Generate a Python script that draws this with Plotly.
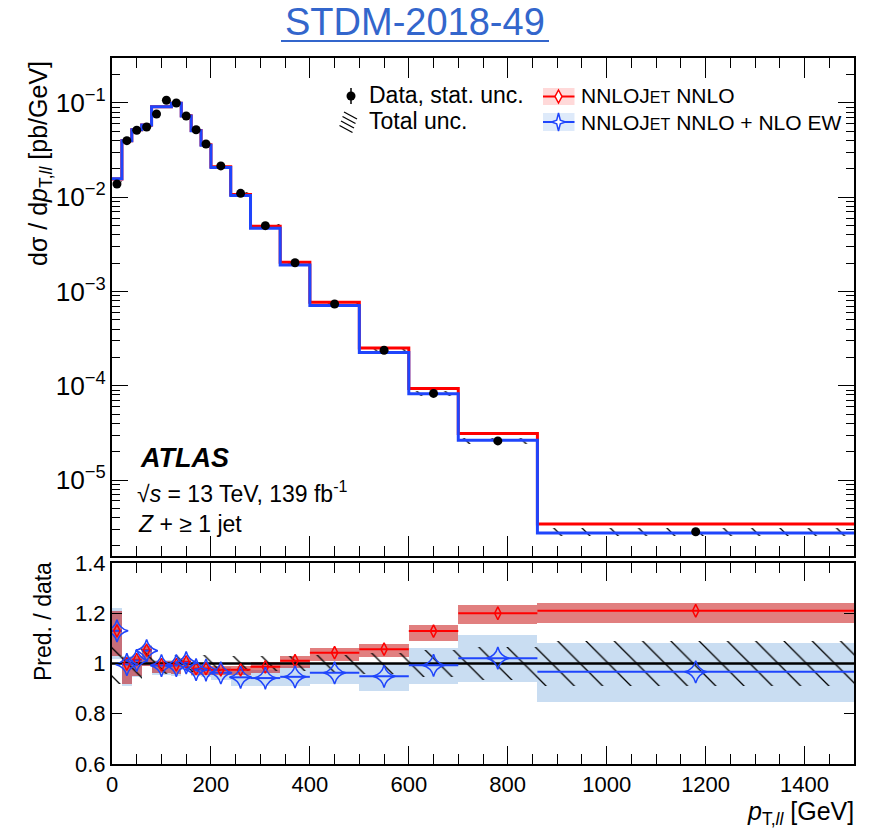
import numpy as np
import plotly.graph_objects as go

# ---------------------------------------------------------------------------
# Z + >=1 jet, dilepton transverse momentum
# ---------------------------------------------------------------------------
data_edges = [0, 20, 40, 60, 80, 100, 120, 140, 160, 180, 200, 240, 280, 340,
              400, 500, 600, 700, 860, 1500]
pred_edges = [0, 20, 40, 60, 80, 120, 140, 160, 180, 200, 240, 280, 340,
              400, 500, 600, 700, 860, 1500]

# measured cross-section [pb/GeV]
data_xsec = [0.0138, 0.0398, 0.0513, 0.0556, 0.0764, 0.1069, 0.100, 0.0727,
             0.0520, 0.0367, 0.0215, 0.0110, 4.99e-3, 2.02e-3, 7.36e-4,
             2.38e-4, 8.3e-5, 2.6e-5, 2.83e-6]
# relative statistical and total uncertainties
data_stat_rel = [0.004, 0.003, 0.003, 0.003, 0.003, 0.003, 0.003, 0.003, 0.003,
                 0.003, 0.004, 0.005, 0.006, 0.008, 0.010, 0.015, 0.02, 0.03, 0.06]
data_tot_rel = [0.08, 0.075, 0.06, 0.05, 0.04, 0.04, 0.035, 0.035, 0.035, 0.035,
                0.03, 0.03, 0.03, 0.03, 0.035, 0.04, 0.053, 0.066, 0.09]

# predictions [pb/GeV]
nnlo_xsec = [0.0156, 0.0397, 0.0521, 0.0585, 0.0912, 0.0995, 0.0731, 0.0510,
             0.0360, 0.0210, 0.0107, 4.93e-3, 2.04e-3, 7.68e-4, 2.52e-4,
             9.37e-5, 3.12e-5, 3.42e-6]
nnlo_ew_xsec = [0.0157, 0.0397, 0.0519, 0.0584, 0.0910, 0.0992, 0.0729, 0.0508,
                0.0357, 0.0207, 0.0104, 4.70e-3, 1.91e-3, 7.09e-4, 2.26e-4,
                8.24e-5, 2.65e-5, 2.74e-6]

# prediction / data
ratio_nnlo = [1.13, 0.998, 1.015, 1.053, 0.995, 0.995, 1.006, 0.98, 0.98, 0.975,
              0.975, 0.987, 1.011, 1.043, 1.057, 1.129, 1.20, 1.21]
ratio_nnlo_lo = [1.03, 0.917, 0.95, 0.99, 0.963, 0.957, 0.983, 0.955, 0.955,
                 0.955, 0.955, 0.964, 0.984, 1.008, 1.024, 1.09, 1.158, 1.163]
ratio_nnlo_hi = [1.207, 1.025, 1.03, 1.07, 1.009, 1.009, 1.02, 0.995, 0.995,
                 0.99, 0.99, 1.004, 1.028, 1.061, 1.077, 1.155, 1.232, 1.24]
ratio_ew = [1.13, 0.996, 1.012, 1.051, 0.992, 0.992, 1.003, 0.976, 0.974, 0.963,
            0.945, 0.942, 0.947, 0.963, 0.949, 0.993, 1.021, 0.967]
ratio_ew_lo = [1.016, 0.91, 0.945, 0.99, 0.955, 0.95, 0.975, 0.95, 0.945, 0.935,
               0.912, 0.912, 0.912, 0.918, 0.892, 0.917, 0.925, 0.846]
ratio_ew_hi = [1.22, 1.03, 1.035, 1.075, 1.012, 1.012, 1.015, 0.995, 0.99, 0.985,
               0.97, 0.975, 0.99, 0.998, 1.0, 1.063, 1.112, 1.083]

x_ticks = [0, 200, 400, 600, 800, 1000, 1200, 1400]
ratio_ticks = [0.6, 0.8, 1.0, 1.2, 1.4]
ratio_ticktext = ["0.6", "0.8", "1", "1.2", "1.4"]

# ---------------------------------------------------------------------------
FONT = "Liberation Sans, Arial, Helvetica, sans-serif"
RED = "#FF0000"
BLUE = "#1F45FC"
RED_BAND = "rgba(195,0,0,0.5)"
BLUE_BAND = "#C9DDF2"

de = np.array(data_edges, dtype=float)
pe = np.array(pred_edges, dtype=float)
d_c, d_w = (de[:-1] + de[1:]) / 2, np.diff(de)
p_c, p_w = (pe[:-1] + pe[1:]) / 2, np.diff(pe)
dx = np.array(data_xsec)
tot = np.array(data_tot_rel)


def steps(edges, vals):
    return list(edges), list(vals) + [vals[-1]]


def segments(edges, vals):
    xs, ys = [], []
    for lo, hi, v in zip(edges[:-1], edges[1:], vals):
        xs += [lo, hi, None]
        ys += [v, v, None]
    return xs, ys


hatch = dict(shape="\\", fgcolor="black", fgopacity=1, bgcolor="rgba(0,0,0,0)",
             size=20, solidity=0.065, fillmode="overlay")

fig = go.Figure()

# --- upper panel -----------------------------------------------------------
fig.add_trace(go.Bar(x=d_c, width=d_w, base=dx * (1 - tot), y=dx * 2 * tot,
                     marker=dict(color="rgba(0,0,0,0)", line=dict(width=0),
                                 pattern=hatch),
                     xaxis="x", yaxis="y", showlegend=False, hoverinfo="skip"))
sx, sy = steps(pe, nnlo_xsec)
fig.add_trace(go.Scatter(x=sx, y=sy, mode="lines", line=dict(color=RED, width=3,
                         shape="hv"), xaxis="x", yaxis="y", showlegend=False))
sx, sy = steps(pe, nnlo_ew_xsec)
fig.add_trace(go.Scatter(x=sx, y=sy, mode="lines", line=dict(color=BLUE, width=3,
                         shape="hv"), xaxis="x", yaxis="y", showlegend=False))
fig.add_trace(go.Scatter(x=d_c, y=dx, mode="markers",
                         marker=dict(color="black", size=9),
                         error_y=dict(type="data", array=dx * np.array(data_stat_rel),
                                      color="black", thickness=1.5, width=0),
                         xaxis="x", yaxis="y", showlegend=False))

# --- ratio panel -----------------------------------------------------------
fig.add_trace(go.Bar(x=p_c, width=p_w, base=ratio_ew_lo,
                     y=np.array(ratio_ew_hi) - np.array(ratio_ew_lo),
                     marker=dict(color=BLUE_BAND, line=dict(width=0)),
                     xaxis="x2", yaxis="y2", showlegend=False, hoverinfo="skip"))
fig.add_trace(go.Bar(x=p_c, width=p_w, base=ratio_nnlo_lo,
                     y=np.array(ratio_nnlo_hi) - np.array(ratio_nnlo_lo),
                     marker=dict(color=RED_BAND, line=dict(width=0)),
                     xaxis="x2", yaxis="y2", showlegend=False, hoverinfo="skip"))
fig.add_trace(go.Bar(x=d_c, width=d_w, base=1 - tot, y=2 * tot,
                     marker=dict(color="rgba(0,0,0,0)", line=dict(width=0),
                                 pattern=hatch),
                     xaxis="x2", yaxis="y2", showlegend=False, hoverinfo="skip"))
fig.add_trace(go.Scatter(x=[pe[0], pe[-1]], y=[1, 1], mode="lines",
                         line=dict(color="black", width=2.5),
                         xaxis="x2", yaxis="y2", showlegend=False))
sx, sy = segments(pe, ratio_nnlo)
fig.add_trace(go.Scatter(x=sx, y=sy, mode="lines", line=dict(color=RED, width=2),
                         xaxis="x2", yaxis="y2", showlegend=False))
sx, sy = segments(pe, ratio_ew)
fig.add_trace(go.Scatter(x=sx, y=sy, mode="lines", line=dict(color=BLUE, width=2),
                         xaxis="x2", yaxis="y2", showlegend=False))
fig.add_trace(go.Scatter(x=p_c, y=ratio_nnlo, mode="markers",
                         marker=dict(symbol="diamond-tall-open", size=9, color=RED,
                                     line=dict(width=1.5, color=RED)),
                         xaxis="x2", yaxis="y2", showlegend=False))
fig.add_trace(go.Scatter(x=p_c, y=ratio_ew, mode="markers",
                         marker=dict(symbol="star-diamond-open", size=16, color=BLUE,
                                     line=dict(width=1.5, color=BLUE)),
                         xaxis="x2", yaxis="y2", showlegend=False))

# --- axes --------------------------------------------------------------------
L, R, T, B = 112, 854, 58, 764
W, H = 876, 839
TOP_BOTTOM, RATIO_TOP = 556, 563


def px(v):
    return (v - L) / (R - L)


def py(v):
    return (B - v) / (B - T)


common_x = dict(range=[0, 1500], showgrid=False, zeroline=False, showline=True,
                linecolor="black", linewidth=2, mirror="allticks", ticks="inside",
                tickcolor="black", tickwidth=1.3, tickvals=x_ticks,
                minor=dict(dtick=50, ticks="inside", ticklen=10, tickcolor="black",
                           tickwidth=1.3, showgrid=False),
                tickfont=dict(family=FONT, size=22, color="black"))

fig.update_layout(
    width=W, height=H,
    margin=dict(l=L, r=W - R, t=T, b=H - B),
    paper_bgcolor="white", plot_bgcolor="white",
    barmode="overlay", bargap=0,
    font=dict(family=FONT, color="black"),
    xaxis=dict(common_x, anchor="y", showticklabels=False, ticklen=20),
    xaxis2=dict(common_x, anchor="y2", showticklabels=True, ticklen=18,
                ticktext=[str(v) for v in x_ticks], matches="x"),
    yaxis=dict(type="log", range=[-5.806, -0.523], domain=[py(TOP_BOTTOM), 1],
               anchor="x", showgrid=False, zeroline=False, showline=True,
               linecolor="black", linewidth=2, mirror="allticks", ticks="inside",
               ticklen=16, tickcolor="black", tickwidth=1.3, dtick=1,
               exponentformat="power", showexponent="all",
               minor=dict(dtick="D1", ticks="inside", ticklen=8, tickcolor="black",
                          tickwidth=1.3, showgrid=False),
               tickfont=dict(family=FONT, size=21, color="black")),
    yaxis2=dict(range=[0.6, 1.4], domain=[0, py(RATIO_TOP)], anchor="x2",
                showgrid=False, zeroline=False, showline=True, linecolor="black",
                linewidth=2, mirror="allticks", ticks="inside", ticklen=10,
                tickcolor="black", tickwidth=1.3, tickvals=ratio_ticks,
                ticktext=ratio_ticktext,
                tickfont=dict(family=FONT, size=22, color="black")),
)

# --- text ------------------------------------------------------------------
ann = []


def text(x, y, s, size=23, xanchor="left", angle=0, color="black"):
    ann.append(dict(x=px(x), y=py(y), xref="paper", yref="paper", text=s,
                    showarrow=False, xanchor=xanchor, yanchor="middle",
                    textangle=angle, font=dict(family=FONT, size=size, color=color)))


TITLE_BLUE = "#3366CC"
text(415, 22, "STDM-2018-49", size=38, xanchor="center", color=TITLE_BLUE)
text(40, 164, "dσ / d<i>p</i><sub>T,<i>ll</i></sub> [pb/GeV]", size=25,
     xanchor="center", angle=-90)
text(43, 622, "Pred. / data", size=23, xanchor="center", angle=-90)
text(856, 813, "<i>p</i><sub>T,<i>ll</i></sub> [GeV]", size=25, xanchor="right")
text(138, 458, "<b><i>ATLAS</i></b>", size=27)
text(135, 492, "√<i>s</i> = 13 TeV, 139 fb<sup>-1</sup>", size=23)
text(136, 524, "<i>Z</i> + ≥ 1 jet", size=23)

nnlojet = "NNLOJ<span style='font-size:16px'>ET</span>"
text(367, 95, "Data, stat. unc.", size=23)
text(367, 121, "Total unc.", size=23)
text(579, 96, nnlojet + " NNLO", size=21)
text(579, 122, nnlojet + " NNLO + NLO EW", size=21)

shapes = []


def line(x0, y0, x1, y1, color, width):
    shapes.append(dict(type="line", xref="paper", yref="paper", x0=px(x0), x1=px(x1),
                       y0=py(y0), y1=py(y1), line=dict(color=color, width=width)))


def rect(x0, y0, x1, y1, fill):
    shapes.append(dict(type="rect", xref="paper", yref="paper", x0=px(x0), x1=px(x1),
                       y0=py(y1), y1=py(y0), fillcolor=fill, line=dict(width=0),
                       layer="below"))


def pshape(xa, ya, **kw):
    d = dict(xref="paper", yref="paper", xsizemode="pixel", ysizemode="pixel",
             xanchor=px(xa), yanchor=py(ya))
    d.update(kw)
    shapes.append(d)


# title underline
line(281, 41, 549, 41, TITLE_BLUE, 2)
# legend: data
line(351, 88, 351, 104, "black", 1.5)
pshape(351, 96, type="circle", x0=-4.5, x1=4.5, y0=-4.5, y1=4.5,
       fillcolor="black", line=dict(color="black", width=0))
# legend: hatch swatch
for k in range(4):
    x0, y0 = 344 - 1.5 * k, 112 + 4.5 * k
    line(x0, y0, x0 + 13, y0 + 7, "black", 1.3)
# legend: NNLO
rect(543, 88, 574.5, 105, "rgba(255,0,0,0.15)")
line(543, 96.5, 574.5, 96.5, RED, 2)
pshape(558.5, 96.5, type="path", path="M0,6.5 L3.5,0 L0,-6.5 L-3.5,0 Z",
       fillcolor="white", line=dict(color=RED, width=1.5))
# legend: NNLO + NLO EW
rect(543, 113, 574.5, 131, "rgba(0,90,220,0.13)")
line(543, 122, 574.5, 122, BLUE, 2)
pshape(558.5, 122, type="path",
       path="M0,9 L1.8,1.8 L7,0 L1.8,-1.8 L0,-9 L-1.8,-1.8 L-7,0 L-1.8,1.8 Z",
       fillcolor="white", line=dict(color=BLUE, width=1.5))

fig.update_layout(annotations=ann, shapes=shapes)
fig.write_html("out.html")
